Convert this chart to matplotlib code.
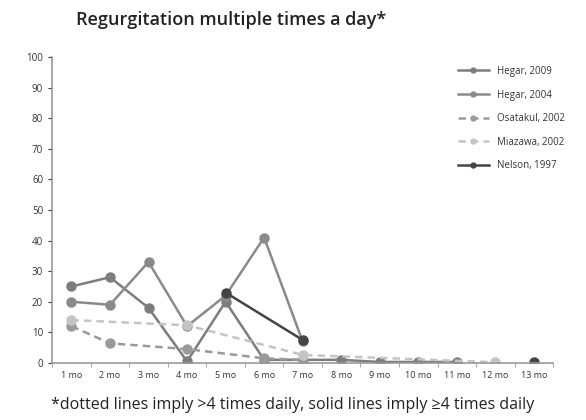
import matplotlib.pyplot as plt
import numpy as np

plt.rcParams['font.family'] = ['Open Sans', 'DejaVu Sans']

months = ["1 mo", "2 mo", "3 mo", "4 mo", "5 mo", "6 mo", "7 mo", "8 mo",
          "9 mo", "10 mo", "11 mo", "12 mo", "13 mo"]
nan = np.nan
hegar_2009 = [25, 28, 18, 0.5, 20, 1, 1, 1, 0.3, 0.3, 0.3, nan, nan]
hegar_2004 = [20, 19, 33, 12, 22, 41, 7, nan, nan, nan, nan, nan, nan]
osatakul_2002 = [12, 6.4, nan, 4.5, nan, 1.5, 1, nan, nan, nan, nan, nan, nan]
miazawa_2002 = [14, nan, nan, 12.3, nan, nan, 2.6, nan, nan, nan, nan, 0.2, nan]
nelson_1997 = [nan, nan, nan, nan, 23, nan, 7.5, nan, nan, nan, nan, nan, 0.2]

series = [
    ("Hegar, 2009", hegar_2009, "#7d7d7d", "-"),
    ("Hegar, 2004", hegar_2004, "#8a8a8a", "-"),
    ("Osatakul, 2002", osatakul_2002, "#9a9a9a", "--"),
    ("Miazawa, 2002", miazawa_2002, "#c4c4c4", "--"),
    ("Nelson, 1997", nelson_1997, "#444444", "-"),
]

fig = plt.figure(figsize=(5.86, 4.2), dpi=100)
ax = fig.add_axes([0.089, 0.136, 0.855, 0.728])

x = np.arange(len(months))
for label, vals, color, ls in series:
    v = np.array(vals, dtype=float)
    m = ~np.isnan(v)
    xs, ys = x[m], v[m]
    dashes = (3, 2) if ls == "--" else (None, None)
    # Nelson's last point stands alone (no connecting line)
    if label.startswith("Nelson"):
        ax.plot(xs[-1:], ys[-1:], ls="none", color=color, marker="o", markersize=6.5)
        xs, ys = xs[:-1], ys[:-1]
    ax.plot(xs, ys, ls=ls, color=color, lw=1.8, marker="o", markersize=6.5,
            label=label, dashes=dashes)

ax.set_xlim(-0.5, len(months) - 0.5)
ax.set_ylim(0, 100)
ax.set_yticks(range(0, 101, 10))
ax.set_xticks(x)
ax.set_xticklabels(months, fontsize=6.5, color="#333333")
ax.set_xticks(np.arange(-0.5, len(months)), minor=True)
ax.tick_params(axis="x", which="major", length=0, pad=6)
ax.tick_params(axis="x", which="minor", length=3, color="#999999")
ax.tick_params(axis="y", labelsize=7, colors="#333333", length=3)
for s in ["top", "right"]:
    ax.spines[s].set_visible(False)
ax.spines["left"].set_color("#999999")
ax.spines["bottom"].set_color("#999999")
ax.spines["left"].set_linewidth(1.2)
ax.spines["bottom"].set_linewidth(1.2)

leg = ax.legend(loc="upper right", bbox_to_anchor=(1.04, 1.0), frameon=False,
                fontsize=7, markerscale=0.55, handlelength=3.2,
                labelspacing=1.3)
for t in leg.get_texts():
    t.set_color("#333333")

fig.text(0.395, 0.952, "Regurgitation multiple times a day*", ha="center",
         va="center", fontsize=13, fontweight="semibold", color="#222222")
fig.text(0.5, 0.035, "*dotted lines imply >4 times daily, solid lines imply \u22654 times daily",
         ha="center", va="center", fontsize=11.5, color="#222222")

fig.savefig("out.png", dpi=100)
